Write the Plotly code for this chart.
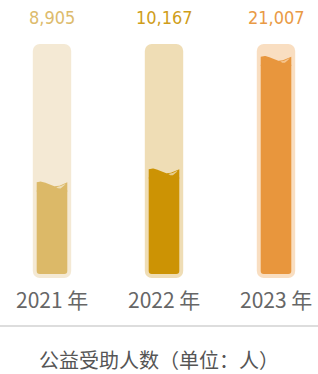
import numpy as np
import plotly.graph_objects as go

years = ["2021 年", "2022 年", "2023 年"]
values = [8905, 10167, 21007]
value_labels = ["8,905", "10,167", "21,007"]
tube_colors = ["#F4E9D4", "#EFDDB5", "#F9DEC1"]
fill_colors = ["#DCB968", "#CC9304", "#E8963D"]
glow_colors = ["#EEDFB8", "#E6CC8E", "#F6C58E"]
label_colors = ["#DDBB6C", "#CF9D1A", "#E99A45"]
title_text = "公益受助人数（单位：人）"

W, H = 318, 374
k = max(values) / 218.0          # value units per pixel
base_px = 274                    # pixel row of value 0
y_top = base_px * k
y_bot = -(H - base_px) * k
px_x = 112.0                     # pixels per category step
x0_px = 52.0
xr = [-x0_px / px_x, (W - x0_px) / px_x]

tube_top = max(values) + 12 * k
tube_bot = -4 * k
outer_w = 38.4 / px_x
inner_w = 30.6 / px_x

xs = list(range(len(values)))
fig = go.Figure()

# outer tubes
fig.add_trace(go.Bar(x=xs, y=[tube_top - tube_bot] * 3, base=[tube_bot] * 3, width=outer_w,
                     marker=dict(color=tube_colors, line=dict(width=0), cornerradius=7),
                     hoverinfo="skip", showlegend=False))
# inner fill (drawn downward from below the wave so the bottom is rounded)
inner_base = [v - 7 * k for v in values]
fig.add_trace(go.Bar(x=xs, y=[-b for b in inner_base], base=inner_base, width=inner_w,
                     marker=dict(color=fill_colors, line=dict(width=0), cornerradius=3),
                     hoverinfo="skip", showlegend=False))

# wave tops
amp = 2.4
t = np.linspace(0, 1, 60)
h = -amp + amp * np.cos(2 * np.pi * (t - 0.12))
for i, v in enumerate(values):
    xl = i - inner_w / 2
    wx = list(xl + t * inner_w) + [xl + inner_w, xl]
    wy = list(v + h * k) + [v - 10 * k, v - 10 * k]
    fig.add_trace(go.Scatter(x=wx, y=wy, fill="toself", fillcolor=fill_colors[i], mode="lines",
                             line=dict(width=0, color=fill_colors[i]), hoverinfo="skip", showlegend=False))
    # crescent highlight
    tc = np.linspace(0.64, 0.95, 30)
    hc = -amp + amp * np.cos(2 * np.pi * (tc - 0.12))
    thick = 2.4 * np.sin(np.pi * (tc - 0.64) / 0.31)
    upper = v + (hc - 0.8) * k
    lower = v + (hc - 0.8 - thick) * k
    cx = list(xl + tc * inner_w) + list((xl + tc * inner_w)[::-1])
    cy = list(upper) + list(lower[::-1])
    fig.add_trace(go.Scatter(x=cx, y=cy, fill="toself", fillcolor=glow_colors[i], mode="lines",
                             line=dict(width=0, color=glow_colors[i]), hoverinfo="skip", showlegend=False))

annotations = []
for i in xs:
    annotations.append(dict(x=i, y=1 - 18 / H, xref="x", yref="paper", text=value_labels[i],
                            showarrow=False, xanchor="center", yanchor="middle",
                            font=dict(family="Liberation Sans Narrow, DejaVu Sans Condensed, sans-serif",
                                      size=18, color=label_colors[i])))
    annotations.append(dict(x=i, y=1 - 299 / H, xref="x", yref="paper", text=years[i],
                            showarrow=False, xanchor="center", yanchor="middle",
                            font=dict(family="Noto Sans CJK SC, sans-serif", size=21, color="#666666")))
annotations.append(dict(x=0.5, y=1 - 359 / H, xref="paper", yref="paper", text=title_text,
                        showarrow=False, xanchor="center", yanchor="middle",
                        font=dict(family="Noto Sans CJK SC, sans-serif", size=20, color="#555555")))

fig.update_layout(
    width=W, height=H, margin=dict(l=0, r=0, t=0, b=0),
    paper_bgcolor="white", plot_bgcolor="white",
    barmode="overlay", showlegend=False,
    xaxis=dict(range=xr, visible=False, fixedrange=True),
    yaxis=dict(range=[y_bot, y_top], visible=False, fixedrange=True),
    annotations=annotations,
    shapes=[dict(type="line", xref="paper", yref="paper", x0=0, x1=1,
                 y0=1 - 326 / H, y1=1 - 326 / H, line=dict(color="#D2D2D2", width=1.5))],
)

fig.write_html("out.html", config={"displayModeBar": False},
               post_script="document.body.style.margin='0';document.body.style.overflow='hidden';")
